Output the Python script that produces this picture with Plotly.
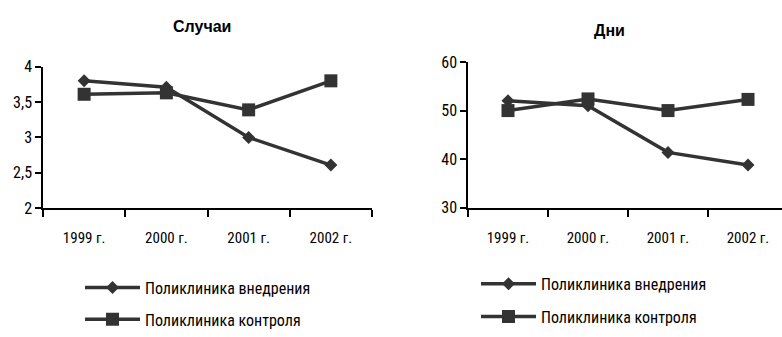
import plotly.graph_objects as go

W, H = 782, 337

years = ["1999 г.", "2000 г.", "2001 г.", "2002 г."]

# Left panel: cases
cases_impl = [3.8, 3.71, 3.0, 2.61]
cases_ctrl = [3.61, 3.63, 3.39, 3.8]
cases_ticks = [2, 2.5, 3, 3.5, 4]
cases_ticktext = ["2", "2,5", "3", "3,5", "4"]

# Right panel: days
days_impl = [52.0, 51.0, 41.4, 38.8]
days_ctrl = [50.0, 52.4, 50.0, 52.3]
days_ticks = [30, 40, 50, 60]

name_impl = "Поликлиника внедрения"
name_ctrl = "Поликлиника контроля"

INK = "#333333"
NARROW = "Roboto Condensed, sans-serif"
BOLD = "Liberation Sans, Arial, sans-serif"


def px_x(x):
    return x / W


def px_y(y):
    return 1 - y / H


fig = go.Figure()

for xa, ya, impl, ctrl, leg in [
    ("x", "y", cases_impl, cases_ctrl, "legend"),
    ("x2", "y2", days_impl, days_ctrl, "legend2"),
]:
    fig.add_trace(go.Scatter(
        x=years, y=impl, name=name_impl, xaxis=xa, yaxis=ya, legend=leg,
        legendgroup=leg + "impl", mode="lines+markers", cliponaxis=False,
        line=dict(color=INK, width=3.5),
        marker=dict(symbol="diamond", size=10, color=INK),
    ))
    fig.add_trace(go.Scatter(
        x=years, y=ctrl, name=name_ctrl, xaxis=xa, yaxis=ya, legend=leg,
        legendgroup=leg + "ctrl", mode="lines+markers", cliponaxis=False,
        line=dict(color=INK, width=3.5),
        marker=dict(symbol="square", size=13, color=INK),
    ))

xcommon = dict(
    type="category", showgrid=False, zeroline=False,
    showline=True, linecolor="black", linewidth=1.5,
    ticks="outside", tickson="boundaries", ticklen=7, tickwidth=1.5, tickcolor="black",
    ticklabelstandoff=15,
    tickfont=dict(family=NARROW, size=15, color="black"),
    fixedrange=True,
)
ycommon = dict(
    showgrid=False, zeroline=False,
    showline=True, linecolor="black", linewidth=1.5,
    ticks="outside", ticklen=6, tickwidth=1.5, tickcolor="black",
    tickfont=dict(family=NARROW, size=16, color="black"),
    fixedrange=True,
)

legend_common = dict(
    xanchor="left", yanchor="top", orientation="v", itemwidth=55,
    font=dict(family=NARROW, size=16, color="black"),
    bgcolor="rgba(0,0,0,0)", itemclick=False, itemdoubleclick=False,
)

fig.update_layout(
    width=W, height=H,
    margin=dict(l=0, r=0, t=0, b=0),
    paper_bgcolor="white", plot_bgcolor="white",
    showlegend=True,
    xaxis=dict(xcommon, domain=[px_x(43), px_x(372)], range=[-0.5, 3.5], anchor="y"),
    yaxis=dict(ycommon, domain=[px_y(212.5), px_y(61.5)], range=[2, 4],
               tickvals=cases_ticks, ticktext=cases_ticktext, anchor="x"),
    xaxis2=dict(xcommon, domain=[px_x(468), 1], range=[-0.5, -0.5 + 314 / 80], anchor="y2"),
    yaxis2=dict(ycommon, domain=[px_y(212), px_y(56.5)], range=[30, 60],
                tickvals=days_ticks, anchor="x2"),
    legend=dict(legend_common, x=px_x(80), y=px_y(279), tracegroupgap=8),
    legend2=dict(legend_common, x=px_x(476), y=px_y(275), tracegroupgap=9),
    annotations=[
        dict(text="<b>Случаи</b>", x=px_x(202), y=px_y(19), xref="paper", yref="paper",
             showarrow=False, xanchor="center", yanchor="middle",
             font=dict(family=BOLD, size=16, color="black")),
        dict(text="<b>Дни</b>", x=px_x(609), y=px_y(23), xref="paper", yref="paper",
             showarrow=False, xanchor="center", yanchor="middle",
             font=dict(family=BOLD, size=16, color="black")),
    ],
)

fig.write_html("out.html")
